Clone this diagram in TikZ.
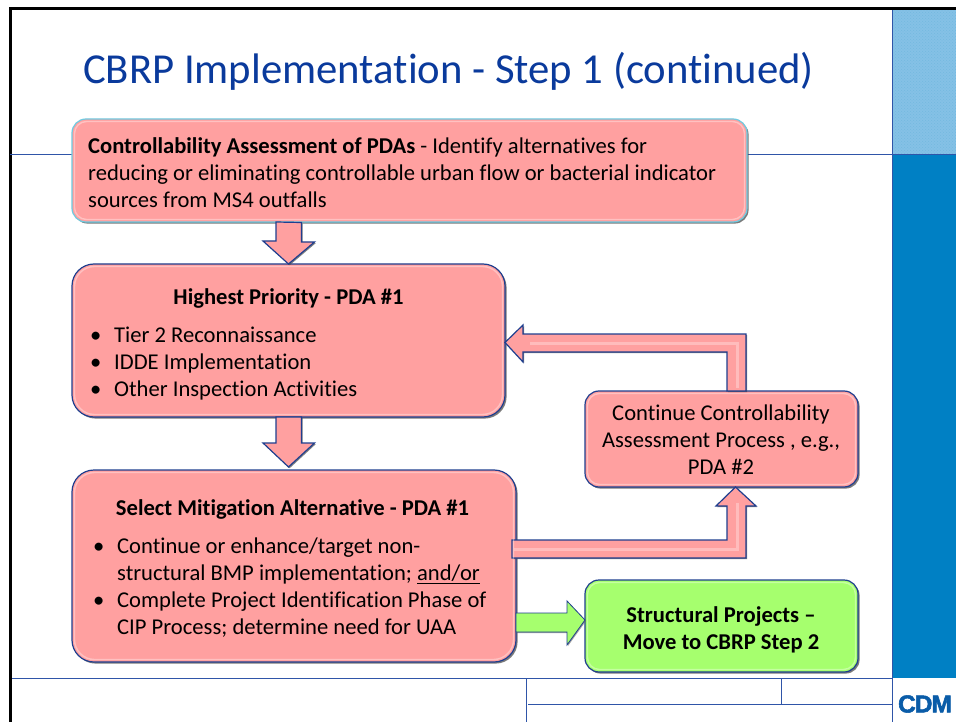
\documentclass[tikz,border=0pt]{standalone}
\usepackage{fontspec}
\setmainfont[RawFeature={-liga;-clig;-dlig}]{Carlito}
\newfontfamily\logofont[FakeBold=2.2,LetterSpace=-4]{Liberation Sans}
\usetikzlibrary{calc,shadows,patterns}
\definecolor{pinkfill}{HTML}{FFA0A0}
\definecolor{greenfill}{HTML}{A6FF6E}
\definecolor{edgeblue}{HTML}{1F3F8F}
\definecolor{titleblue}{HTML}{0A3A9C}
\definecolor{rulelblue}{HTML}{2F55A8}
\definecolor{panelblue}{HTML}{0080C4}
\definecolor{panellight}{HTML}{85C1E6}
\definecolor{logoblue}{HTML}{0A5CA8}
\newcommand{\bodyfont}{\fontsize{22.6}{27}\selectfont}
\tikzset{
  box/.style={draw=edgeblue,line width=1.2pt,fill=pinkfill,rounded corners=#1,
    drop shadow={shadow xshift=1.6pt,shadow yshift=-1.6pt,fill=black!65,opacity=.8},
    inner sep=0pt,outer sep=0pt,anchor=north west},
  box/.default=14pt,
  pinkarrow/.style={draw=edgeblue,line width=1.2pt,fill=pinkfill,line join=miter,
    drop shadow={shadow xshift=1.2pt,shadow yshift=-1.2pt,fill=black!70,opacity=.7}},
  greenarrow/.style={draw=edgeblue,line width=.8pt,fill=greenfill,line join=miter,
    drop shadow={shadow xshift=1pt,shadow yshift=-1pt,fill=black!60,opacity=.6}},
  thin rule/.style={draw=rulelblue,line width=.9pt},
  glow/.style={draw=white,draw opacity=.35,line width=1.4pt},
  sheen/.style={draw=white,draw opacity=.3,line width=3pt},
  label text/.style={inner sep=0pt,font=\bodyfont},
}
\newcommand{\bul}{\makebox[24pt][l]{\textbullet}}
\newcommand{\nobul}{\hspace*{24pt}}
\begin{document}
\begin{tikzpicture}[x=1pt,y=-1pt]
\useasboundingbox (0,0) rectangle (956,722);
\fill[white] (0,0) rectangle (956,722);
% slide furniture
\fill[panellight] (892,8) rectangle (956,154);
\fill[pattern=crosshatch dots,pattern color=panelblue!55] (892,8) rectangle (956,154);
\fill[panelblue] (892,154) rectangle (956,678);
\draw[black,line width=3pt] (10.5,722) -- (10.5,8.5) -- (956,8.5);
\draw[thin rule] (10,154.5) -- (956,154.5);
\draw[thin rule] (892,10) -- (892,722);
\draw[thin rule] (12,678) -- (892,678);
\draw[thin rule] (526.5,678) -- (526.5,722);
\draw[thin rule] (781,678) -- (781,704);
\draw[thin rule] (528,704) -- (892,704);
\node[anchor=west,inner sep=0pt,text=titleblue,font=\fontsize{42.7}{46}\selectfont] (title) at (83,71) {CBRP Implementation - Step 1 (continued)};
\node[anchor=center,inner sep=0pt,text=logoblue,font=\logofont\bfseries\fontsize{24.5}{25}\selectfont] (logo) at (925,704) {CDM};
% boxes
\node[box,draw=edgeblue!45!cyan!60,minimum width=675pt,minimum height=103pt] (assess) at (72,119) {};
\node[box=22pt,minimum width=433pt,minimum height=153pt] (prio) at (72,264) {};
\node[box=22pt,minimum width=444pt,minimum height=192pt] (select) at (72,470) {};
\node[box,minimum width=273pt,minimum height=96pt] (cont) at (585,391) {};
\node[box,fill=greenfill,minimum width=273pt,minimum height=92pt] (struct) at (585,580) {};
% connectors
\coordinate (a1s) at (288.5,0 |- assess.south);
\coordinate (a1e) at (288.5,0 |- prio.north);
\draw[pinkarrow] (a1s) ++(-12.5,0) -- ++(0,19) -- ++(-13,0) -- (a1e) -- ++(26,-22) -- ++(-13,0) -- ++(0,-19.5) -- cycle;
\coordinate (a2s) at (288.5,0 |- prio.south);
\coordinate (a2e) at (288.5,0 |- select.north);
\draw[pinkarrow] (a2s) ++(-12.5,0) -- ++(0,26) -- ++(-13,0) -- ($(a2e)+(0,-3)$) -- ++(26,-24) -- ++(-13,0) -- ++(0,-26) -- cycle;
\coordinate (a3s) at (727,0 |- cont.north);
\coordinate (a3e) at (prio.east |- 0,342.5);
\draw[pinkarrow] (a3s) -- (727,352) -- (523,352) -- (523,362) -- (a3e) -- (523,325) -- (523,334) -- (746,334) -- (746,0 |- cont.north) -- cycle;
\draw[sheen] (530,343) -- (737,343) -- (737,388);
\coordinate (a4e) at (735.5,0 |- cont.south);
\draw[pinkarrow] (512,540) -- (727,540) -- (727,506) -- (716,506) -- (a4e) -- (756,506) -- (746,506) -- (746,558) -- (512,558) -- cycle;
\draw[sheen] (514,549) -- (737,549) -- (737,503);
\coordinate (a5s) at (select.east |- 0,622);
\coordinate (a5e) at (struct.west |- 0,620);
\draw[greenarrow] (a5s |- 0,613) -- (567,613) -- (567,601) -- (a5e) -- (567,645) -- (567,632) -- (a5s |- 0,632) -- cycle;
% highlights
\foreach \n/\r in {assess/12pt,prio/20pt,select/20pt,cont/12pt,struct/12pt}
  \draw[glow,rounded corners=\r] ([shift={(2.5,2.5)}]\n.north west) rectangle ([shift={(-2.5,-2.5)}]\n.south east);
% texts
\node[label text,anchor=north west,align=left] (assesstxt) at (88,137) {\textbf{Controllability Assessment of PDAs} - Identify alternatives for\\ reducing or eliminating controllable urban flow or bacterial indicator\\ sources from MS4 outfalls};
\node[label text,anchor=center,font=\bodyfont\bfseries] (priotitle) at (288.5,298) {Highest Priority - PDA \#1};
\node[label text,anchor=north west,align=left] (priolist) at (90,327) {\bul Tier 2 Reconnaissance\\ \bul IDDE Implementation\\ \bul Other Inspection Activities};
\node[label text,anchor=center,font=\bodyfont\bfseries] (seltitle) at (292.5,509) {Select Mitigation Alternative - PDA \#1};
\node[label text,anchor=north west,align=left] (sellist) at (93,538) {\bul Continue or enhance/target non-\\ \nobul structural BMP implementation; \underline{and/or}\\ \bul Complete Project Identification Phase of\\ \nobul CIP Process; determine need for UAA};
\node[label text,anchor=center,align=center] (conttxt) at (721,440) {Continue Controllability\\ Assessment Process , e.g.,\\ PDA \#2};
\node[label text,anchor=center,align=center,font=\bodyfont\bfseries] (structtxt) at (721,629.5) {Structural Projects --\\ Move to CBRP Step 2};
\end{tikzpicture}
\end{document}
